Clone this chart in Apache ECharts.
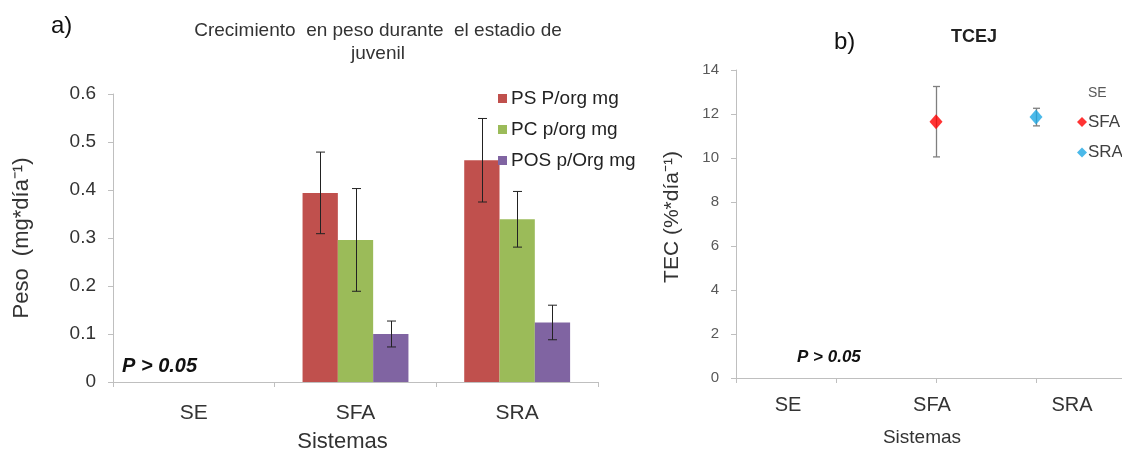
<!DOCTYPE html>
<html>
<head>
<meta charset="utf-8">
<script src="https://cdn.jsdelivr.net/npm/echarts@6/dist/echarts.min.js"></script>
<style>
html,body{margin:0;padding:0;background:#fff;}
#c{width:1122px;height:452px;}
</style>
</head>
<body>
<div id="c"></div>
<script>
// ---- Data: chart a) ----
const categoriesA = ['SE', 'SFA', 'SRA'];
const psMean  = [null, 0.394, 0.462];
const psErr   = [null, 0.085, 0.087];
const pcMean  = [null, 0.296, 0.339];
const pcErr   = [null, 0.107, 0.058];
const posMean = [null, 0.100, 0.124];
const posErr  = [null, 0.027, 0.036];
const seriesNamesA = ['PS P/org mg', 'PC p/org mg', 'POS p/Org mg'];
const yTicksA = [0, 0.1, 0.2, 0.3, 0.4, 0.5, 0.6];

// ---- Data: chart b) ----
const categoriesB = ['SE', 'SFA', 'SRA'];
const tecPos  = { SFA: 2, SRA: 3 };
const tecMean = { SFA: 11.65, SRA: 11.86 };
const tecErr  = { SFA: 1.6, SRA: 0.4 };
const yTicksB = [0, 2, 4, 6, 8, 10, 12, 14];

const chart = echarts.init(document.getElementById('c'));
const FONT = 'Liberation Sans, Arial, sans-serif';
const NARROW = 'Liberation Sans Narrow, Arial Narrow, Liberation Sans, sans-serif';
const colorsA = ['#C0504D', '#9BBB59', '#8064A2'];
const barGapCat = 0.345;

function errData(mean, err) {
  const out = [];
  mean.forEach((m, i) => { if (m != null) out.push([i, m - err[i], m + err[i]]); });
  return out;
}

function groupedErr(k) {
  return function (params, api) {
    const x = api.value(0);
    const band = api.size([1, 0])[0];
    const bw = band * (1 - barGapCat) / 3;
    const off = (k - 1) * bw;
    const hi = api.coord([x, api.value(2)]);
    const lo = api.coord([x, api.value(1)]);
    const cx = Math.round(hi[0] + off) + 0.5;
    const cap = 4.5;
    const st = { stroke: '#222', lineWidth: 1 };
    return {
      type: 'group',
      children: [
        { type: 'line', shape: { x1: cx, y1: hi[1], x2: cx, y2: lo[1] }, style: st },
        { type: 'line', shape: { x1: cx - cap, y1: hi[1], x2: cx + cap, y2: hi[1] }, style: st },
        { type: 'line', shape: { x1: cx - cap, y1: lo[1], x2: cx + cap, y2: lo[1] }, style: st }
      ]
    };
  };
}

function pointErr(params, api) {
  const x = api.value(0);
  const hi = api.coord([x, api.value(2)]);
  const lo = api.coord([x, api.value(1)]);
  const cx = Math.round(hi[0]) + 0.5;
  const cap = 3.5;
  const st = { stroke: '#7f7f7f', lineWidth: 1.3 };
  return {
    type: 'group',
    children: [
      { type: 'line', shape: { x1: cx, y1: hi[1], x2: cx, y2: lo[1] }, style: st },
      { type: 'line', shape: { x1: cx - cap, y1: hi[1], x2: cx + cap, y2: hi[1] }, style: st },
      { type: 'line', shape: { x1: cx - cap, y1: lo[1], x2: cx + cap, y2: lo[1] }, style: st }
    ]
  };
}

const meansA = [psMean, pcMean, posMean];
const errsA = [psErr, pcErr, posErr];

const series = [];
meansA.forEach((m, k) => {
  series.push({
    name: seriesNamesA[k], type: 'bar', xAxisIndex: 0, yAxisIndex: 0,
    data: m, barGap: '0%', barCategoryGap: (barGapCat * 100) + '%',
    itemStyle: { color: colorsA[k] }, z: 2
  });
});
meansA.forEach((m, k) => {
  series.push({
    type: 'custom', xAxisIndex: 0, yAxisIndex: 0,
    data: errData(m, errsA[k]), renderItem: groupedErr(k), z: 5, silent: true
  });
});

// chart b
series.push({ name: 'SE', type: 'scatter', xAxisIndex: 1, yAxisIndex: 1, data: [] });
['SFA', 'SRA'].forEach((n) => {
  series.push({
    type: 'custom', xAxisIndex: 1, yAxisIndex: 1, z: 2, silent: true,
    data: [[tecPos[n], tecMean[n] - tecErr[n], tecMean[n] + tecErr[n]]],
    renderItem: pointErr
  });
});
series.push({
  name: 'SFA', type: 'scatter', xAxisIndex: 1, yAxisIndex: 1, z: 5,
  symbol: 'diamond', symbolSize: [13, 15], itemStyle: { color: '#FF0000' },
  data: [[tecPos.SFA, tecMean.SFA]]
});
series.push({
  name: 'SRA', type: 'scatter', xAxisIndex: 1, yAxisIndex: 1, z: 5,
  symbol: 'diamond', symbolSize: [13, 15], itemStyle: { color: '#1EA8E3' },
  data: [[tecPos.SRA, tecMean.SRA]]
});

const axisLineGray = { show: true, lineStyle: { color: '#bfbfbf', width: 1 } };
const labelsBPos = [0.52, 1.96, 3.36];

const option = {
  animation: false,
  backgroundColor: '#ffffff',
  grid: [
    { left: 113, right: 524, top: 94, bottom: 70, containLabel: false, outerBoundsMode: 'none' },
    { left: 736, right: 0, top: 70, bottom: 74, containLabel: false, outerBoundsMode: 'none' }
  ],
  xAxis: [
    {
      type: 'category', gridIndex: 0, data: categoriesA, boundaryGap: true,
      axisLine: axisLineGray,
      axisTick: { show: true, length: 5, lineStyle: { color: '#bfbfbf' } },
      axisLabel: { fontFamily: NARROW, fontSize: 21, color: '#333', margin: 21 },
      name: 'Sistemas', nameLocation: 'middle', nameGap: 49,
      nameTextStyle: { fontFamily: FONT, fontSize: 22, color: '#333', padding: [0, 26, 0, 0] },
      splitLine: { show: false }
    },
    {
      type: 'value', gridIndex: 1, min: 0, max: 3.86,
      axisLine: { show: true, onZero: false, lineStyle: { color: '#bfbfbf', width: 1 } },
      axisTick: { show: true, length: 5, customValues: [0, 1, 2, 3], lineStyle: { color: '#bfbfbf' } },
      axisLabel: {
        customValues: labelsBPos, fontFamily: NARROW, fontSize: 20, color: '#333', margin: 17,
        formatter: function (v) {
          const i = labelsBPos.indexOf(v);
          return i >= 0 ? categoriesB[i] : '';
        }
      },
      name: 'Sistemas', nameLocation: 'middle', nameGap: 50,
      nameTextStyle: { fontFamily: FONT, fontSize: 19, color: '#333', padding: [0, 14, 0, 0] },
      splitLine: { show: false }
    }
  ],
  yAxis: [
    {
      type: 'value', gridIndex: 0, min: yTicksA[0], max: yTicksA[yTicksA.length - 1], interval: 0.1,
      axisLine: axisLineGray,
      axisTick: { show: true, length: 5, lineStyle: { color: '#bfbfbf' } },
      axisLabel: { fontFamily: FONT, fontSize: 19, color: '#333', margin: 17 },
      splitLine: { show: false },
      name: 'Peso  (mg*día⁻¹)', nameLocation: 'middle', nameGap: 80,
      nameTextStyle: { fontFamily: FONT, fontSize: 22, color: '#333' }
    },
    {
      type: 'value', gridIndex: 1, min: yTicksB[0], max: yTicksB[yTicksB.length - 1], interval: 2,
      axisLine: axisLineGray,
      axisTick: { show: true, length: 5, lineStyle: { color: '#bfbfbf' } },
      axisLabel: { fontFamily: FONT, fontSize: 15, color: '#595959', margin: 17 },
      splitLine: { show: false },
      name: 'TEC (%*día⁻¹)', nameLocation: 'middle', nameGap: 53,
      nameTextStyle: { fontFamily: FONT, fontSize: 21, color: '#333', padding: [0, 0, 0, 14] }
    }
  ],
  legend: [
    {
      data: seriesNamesA, orient: 'vertical', left: 493, top: 84,
      itemWidth: 9, itemHeight: 9, itemGap: 12, icon: 'rect',
      textStyle: { fontFamily: FONT, fontSize: 19, color: '#222', padding: [0, 0, 0, -1] },
      selectedMode: false
    },
    {
      data: [
        { name: 'SE', icon: 'none', textStyle: { fontSize: 14, color: '#595959' } },
        { name: 'SFA', icon: 'diamond' },
        { name: 'SRA', icon: 'diamond' }
      ],
      orient: 'vertical', left: 1072, top: 81,
      itemWidth: 10, itemHeight: 10, itemGap: 13.5,
      textStyle: { fontFamily: FONT, fontSize: 17, color: '#404040', padding: [0, 0, 0, -4] },
      selectedMode: false
    }
  ],
  graphic: [
    { type: 'text', left: 51, top: 14, style: { text: 'a)', font: '24px ' + FONT, fill: '#111' } },
    { type: 'text', left: 834, top: 30, style: { text: 'b)', font: '24px ' + FONT, fill: '#111' } },
    { type: 'text', x: 378, y: 19, style: { text: 'Crecimiento  en peso durante  el estadio de\njuvenil', font: '19px ' + FONT, fill: '#333', align: 'center', lineHeight: 23 } },
    { type: 'text', x: 974, y: 28, style: { text: 'TCEJ', font: 'bold 18px ' + FONT, fill: '#222', align: 'center' } },
    { type: 'text', left: 122, top: 356, style: { text: 'P > 0.05', font: 'italic bold 20px ' + FONT, fill: '#111' } },
    { type: 'text', left: 797, top: 349, style: { text: 'P > 0.05', font: 'italic bold 17px ' + FONT, fill: '#111' } }
  ],
  series: series
};
chart.setOption(option);
</script>
</body>
</html>
